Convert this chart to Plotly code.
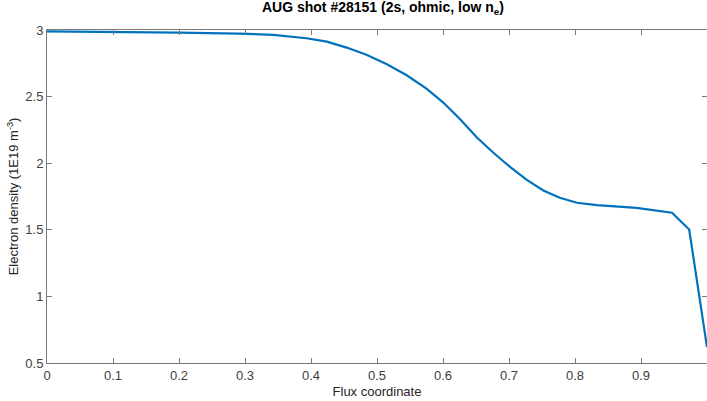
import plotly.graph_objects as go

flux = [0, 0.1, 0.2, 0.29, 0.343, 0.393, 0.424, 0.454, 0.484, 0.515, 0.545, 0.575,
        0.600, 0.626, 0.651, 0.676, 0.702, 0.727, 0.752, 0.777, 0.803, 0.833, 0.863,
        0.893, 0.947, 0.973, 1.0]
density = [2.99, 2.987, 2.980, 2.973, 2.964, 2.938, 2.913, 2.868, 2.814, 2.743, 2.660, 2.560,
           2.457, 2.330, 2.195, 2.080, 1.970, 1.875, 1.795, 1.740, 1.703, 1.685, 1.677,
           1.665, 1.628, 1.502, 0.62]

x_ticks = [0, 0.1, 0.2, 0.3, 0.4, 0.5, 0.6, 0.7, 0.8, 0.9, 1.0]
x_labels = ["0", "0.1", "0.2", "0.3", "0.4", "0.5", "0.6", "0.7", "0.8", "0.9", ""]
y_ticks = [0.5, 1, 1.5, 2, 2.5, 3]
y_labels = ["0.5", "1", "1.5", "2", "2.5", "3"]

axis_color = "#7a7a7a"
font_family = "Liberation Sans, Arial, sans-serif"

fig = go.Figure()
fig.add_trace(go.Scatter(x=flux, y=density, mode="lines",
                         line=dict(color="#0072BD", width=2.2),
                         showlegend=False))

fig.update_layout(
    width=707, height=401,
    margin=dict(l=47, r=0, t=30, b=38),
    paper_bgcolor="white", plot_bgcolor="white",
    font=dict(family=font_family, size=13, color="#404040"),
    title=dict(text="<b>AUG shot #28151 (2s, ohmic, low n<sub>e</sub>)</b>",
               x=0.509, xref="paper", xanchor="center",
               y=1, yref="container", yanchor="top", pad=dict(t=2),
               font=dict(size=14, color="#000000", family=font_family)),
)
fig.update_xaxes(
    range=[0, 1], tickvals=x_ticks, ticktext=x_labels,
    ticks="inside", ticklen=5, tickcolor=axis_color, tickwidth=1,
    showline=True, linecolor=axis_color, linewidth=1, mirror="ticks",
    showgrid=False, zeroline=False,
    title=dict(text="Flux coordinate", standoff=5, font=dict(size=13, color="#262626")),
    tickfont=dict(size=13, color="#404040"),
)
fig.update_yaxes(
    range=[0.5, 3], tickvals=y_ticks, ticktext=y_labels,
    ticks="inside", ticklen=5, tickcolor=axis_color, tickwidth=1,
    showline=True, linecolor=axis_color, linewidth=1, mirror="ticks",
    showgrid=False, zeroline=False,
    title=dict(text="Electron density (1E19 m<sup>-3</sup>)", standoff=3,
               font=dict(size=13, color="#262626")),
    tickfont=dict(size=13, color="#404040"),
)

fig.write_html("out.html")
